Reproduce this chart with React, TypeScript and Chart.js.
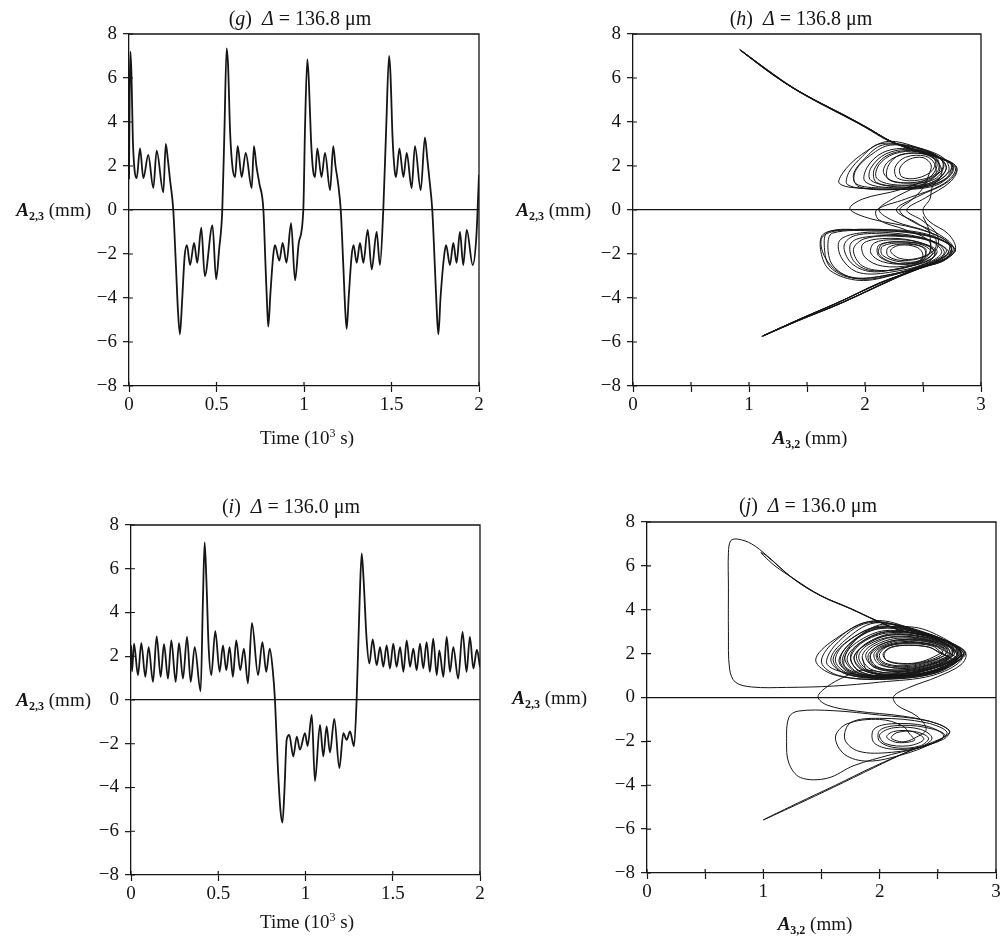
import React, { useEffect, useRef } from "react";
import { Chart, registerables } from "chart.js";

Chart.register(...registerables);

type Pt = [number, number];

// ---------- Panel (g): A2,3 vs time, Δ = 136.8 μm ----------
const gCycle1: Pt[] = [
  [0.0, 1.4], [0.004, 5.5], [0.008, 7.2], [0.014, 6.2], [0.022, 3.2], [0.032, 1.8], [0.044, 1.45], [0.063, 2.8],
  [0.082, 1.45], [0.11, 2.5], [0.139, 1.0], [0.158, 2.7], [0.196, 0.8], [0.21, 3.0], [0.222, 2.3], [0.234, 1.4],
  [0.253, 0.0], [0.268, -2.5], [0.28, -4.6], [0.291, -5.65], [0.303, -4.2], [0.318, -2.1], [0.331, -1.6],
  [0.349, -2.5], [0.372, -1.5], [0.39, -2.4], [0.413, -0.8], [0.433, -3.0], [0.477, -0.7], [0.498, -3.15],
  [0.515, -1.8], [0.533, 0.0], [0.545, 3.5], [0.558, 7.35],
];
const gCycle2: Pt[] = [
  [0.566, 6.6], [0.578, 3.5], [0.592, 1.9], [0.606, 1.5], [0.621, 2.9], [0.644, 1.5], [0.667, 2.6], [0.701, 1.0],
  [0.714, 2.9], [0.728, 2.0], [0.745, 1.2], [0.768, 0.0], [0.78, -2.5], [0.79, -4.5], [0.796, -5.3], [0.808, -3.8],
  [0.825, -2.0], [0.834, -1.6], [0.859, -2.3], [0.878, -1.5], [0.9, -2.4], [0.926, -0.6], [0.949, -3.2],
  [0.97, -1.5], [0.996, 0.0], [1.006, 3.8], [1.019, 6.85],
];
const gCycle3: Pt[] = [
  [1.027, 6.0], [1.04, 3.2], [1.052, 1.8], [1.063, 1.5], [1.076, 2.8], [1.1, 1.5], [1.12, 2.6], [1.149, 0.9],
  [1.167, 2.9], [1.18, 2.0], [1.195, 1.2], [1.21, 0.0], [1.225, -2.6], [1.236, -4.6], [1.244, -5.4], [1.256, -3.9],
  [1.272, -2.1], [1.283, -1.6], [1.301, -2.4], [1.32, -1.5], [1.339, -2.4], [1.364, -0.9], [1.387, -2.7],
  [1.415, -1.0], [1.434, -2.5], [1.453, 0.0], [1.47, 3.8], [1.486, 7.0],
];
const gCycle4: Pt[] = [
  [1.494, 6.2], [1.506, 3.3], [1.518, 1.8], [1.526, 1.5], [1.545, 2.8], [1.568, 1.5], [1.587, 2.6], [1.615, 1.0],
  [1.634, 2.9], [1.667, 0.9], [1.691, 3.3], [1.705, 2.3], [1.718, 1.3], [1.733, 0.0], [1.748, -2.6], [1.76, -4.8],
  [1.768, -5.65], [1.78, -4.0], [1.802, -2.0], [1.812, -1.6], [1.834, -2.5], [1.853, -1.5], [1.872, -2.4],
  [1.891, -1.0], [1.91, -2.5], [1.93, -0.9], [1.964, -2.5], [1.985, -1.2], [2.0, 1.6],
];

// ---------- Panel (i): A2,3 vs time, Δ = 136.0 μm ----------
const iSeg1: Pt[] = [
  [0.0, 2.5], [0.006, 1.3], [0.017, 2.58], [0.04, 1.14], [0.059, 2.6], [0.082, 1.06], [0.101, 2.42], [0.126, 0.83],
  [0.147, 2.91], [0.17, 1.06], [0.189, 2.55], [0.212, 0.98], [0.231, 2.73], [0.256, 0.83], [0.275, 2.6], [0.298, 0.98],
  [0.321, 2.88], [0.342, 0.83], [0.365, 2.42], [0.399, 0.4], [0.412, 4.5], [0.422, 7.2], [0.432, 5.5], [0.445, 2.4],
  [0.46, 1.14], [0.483, 3.15], [0.508, 1.29], [0.527, 2.5], [0.546, 1.36], [0.565, 2.42], [0.584, 1.06], [0.603, 2.73],
  [0.626, 1.36], [0.647, 2.35], [0.67, 0.76], [0.693, 3.52], [0.728, 1.14], [0.753, 2.65], [0.775, 1.29], [0.795, 2.35],
  [0.812, 1.4], [0.825, 0.0],
];
const iSeg2: Pt[] = [
  [0.84, -2.8], [0.856, -5.0], [0.868, -5.6], [0.879, -4.2], [0.892, -1.82], [0.907, -1.6], [0.93, -2.58], [0.95, -1.67],
  [0.968, -2.27], [0.997, -1.52], [1.012, -2.1], [1.036, -0.68], [1.054, -3.71], [1.083, -1.14], [1.102, -2.58],
  [1.121, -1.21], [1.14, -2.4], [1.165, -0.86], [1.194, -3.11], [1.217, -1.52], [1.236, -1.82], [1.255, -1.44],
  [1.278, -2.12], [1.293, 0.0],
];
const iSeg3: Pt[] = [
  [1.31, 4.5], [1.322, 6.7], [1.333, 5.5], [1.35, 2.8], [1.366, 1.67], [1.385, 2.77], [1.408, 1.59], [1.427, 2.42],
  [1.446, 1.52], [1.465, 2.5], [1.484, 1.44], [1.503, 2.58], [1.522, 1.52], [1.542, 2.42], [1.561, 1.29], [1.58, 2.73],
  [1.599, 1.52], [1.618, 2.35], [1.637, 1.36], [1.656, 2.58], [1.675, 1.44], [1.694, 2.65], [1.713, 1.29], [1.732, 2.8],
  [1.752, 1.14], [1.767, 2.27], [1.79, 1.06], [1.809, 2.88], [1.828, 1.29], [1.847, 2.42], [1.875, 0.98], [1.9, 3.11],
  [1.923, 1.29], [1.942, 2.88], [1.962, 1.44], [1.982, 2.3], [2.0, 1.5],
];

// ---------- Panel (h): A2,3 vs A3,2, Δ = 136.8 μm ----------
const hPass1: Pt[] = [
  [0.92, 7.27], [1.15, 6.38], [1.36, 5.6], [1.58, 4.93], [1.81, 4.3], [2.02, 3.72], [2.22, 3.12], [2.4, 2.75], [2.6, 2.43], [2.74, 2.08],
  [2.7, 1.45], [2.45, 1.0], [2.05, 0.97], [1.78, 1.2], [1.84, 1.9], [2.02, 2.7], [2.2, 3.12], [2.45, 2.85], [2.68, 2.35],
  [2.72, 1.75], [2.55, 1.15], [2.2, 1.02], [2.0, 1.3], [2.02, 1.95], [2.15, 2.6], [2.35, 2.8], [2.58, 2.55], [2.68, 2.05],
  [2.6, 1.4], [2.38, 1.22], [2.2, 1.4], [2.2, 2.0], [2.3, 2.5], [2.5, 2.55], [2.62, 2.15],
  [2.56, 1.5], [2.3, 0.92], [1.98, 0.5], [1.87, 0.05], [2.05, -0.4], [2.45, -0.85], [2.7, -1.4], [2.74, -2.0], [2.52, -2.55],
  [2.22, -3.2], [1.8, -4.2], [1.45, -4.95], [1.12, -5.72],
  [1.42, -5.0], [1.77, -4.2], [2.12, -3.35], [2.36, -2.85],
  [2.68, -2.25], [2.77, -1.75], [2.55, -1.2], [2.15, -0.93], [1.78, -0.93], [1.63, -1.25], [1.65, -2.1], [1.78, -2.85], [2.0, -3.15], [2.3, -2.85],
  [2.62, -2.3], [2.7, -1.8], [2.5, -1.3], [2.2, -1.1], [1.92, -1.15], [1.82, -1.6], [1.88, -2.4], [2.05, -2.8], [2.3, -2.65],
  [2.55, -2.3], [2.62, -1.85], [2.45, -1.45], [2.25, -1.35], [2.08, -1.5], [2.05, -1.95], [2.15, -2.35], [2.35, -2.45],
  [2.5, -2.2], [2.52, -1.75], [2.35, -1.55], [2.2, -1.7], [2.2, -2.1], [2.35, -2.3],
  [2.55, -2.0], [2.55, -1.4], [2.35, -0.9], [2.12, -0.45], [2.1, 0.0], [2.35, 0.5], [2.68, 1.2], [2.78, 1.9], [2.62, 2.42],
  [2.4, 2.77], [2.2, 3.15], [2.0, 3.76], [1.8, 4.36], [1.57, 4.98], [1.34, 5.67], [1.13, 6.43], [0.92, 7.3],
];
const hPass2: Pt[] = [
  [1.16, 6.35], [1.37, 5.58], [1.6, 4.9], [1.82, 4.28], [2.03, 3.7], [2.23, 3.1], [2.42, 2.72], [2.62, 2.4], [2.76, 2.0],
  [2.74, 1.6], [2.6, 1.1], [2.3, 0.93], [1.95, 1.05], [1.9, 1.6], [2.0, 2.35], [2.15, 2.95], [2.38, 2.88], [2.62, 2.45],
  [2.7, 1.9], [2.6, 1.3], [2.35, 1.1], [2.1, 1.25], [2.08, 1.85], [2.2, 2.5], [2.42, 2.7], [2.62, 2.35],
  [2.62, 1.7], [2.45, 1.35], [2.28, 1.45], [2.26, 1.95], [2.35, 2.4], [2.52, 2.45], [2.6, 2.1],
  [2.6, 1.5], [2.42, 1.0], [2.22, 0.45], [2.12, 0.0], [2.25, -0.5], [2.55, -1.0], [2.74, -1.6], [2.7, -2.2], [2.48, -2.6],
  [2.2, -3.25], [1.8, -4.22], [1.45, -4.97], [1.13, -5.7],
  [1.43, -4.98], [1.78, -4.18], [2.13, -3.3], [2.4, -2.8],
  [2.7, -2.1], [2.74, -1.65], [2.5, -1.1], [2.1, -0.95], [1.72, -1.05], [1.68, -1.6], [1.72, -2.5], [1.88, -3.05], [2.15, -3.0], [2.45, -2.6],
  [2.68, -2.0], [2.62, -1.5], [2.4, -1.2], [2.05, -1.2], [1.88, -1.5], [1.9, -2.3], [2.05, -2.75], [2.35, -2.6],
  [2.6, -2.1], [2.55, -1.65], [2.35, -1.45], [2.15, -1.55], [2.12, -2.0], [2.25, -2.4], [2.45, -2.4],
  [2.5, -2.05], [2.45, -1.7], [2.3, -1.6], [2.22, -1.85], [2.3, -2.2], [2.45, -2.2],
  [2.6, -1.8], [2.6, -1.2], [2.45, -0.6], [2.27, 0.0], [2.45, 0.6], [2.72, 1.3], [2.79, 1.95], [2.62, 2.44],
  [2.41, 2.78], [2.21, 3.16], [2.01, 3.77], [1.8, 4.37], [1.57, 4.99], [1.34, 5.68], [1.13, 6.44], [0.93, 7.25],
];
const hPass3: Pt[] = [
  [1.16, 6.37], [1.37, 5.6], [1.59, 4.92], [1.82, 4.3], [2.03, 3.71], [2.23, 3.11], [2.41, 2.74], [2.61, 2.41], [2.75, 2.04],
  [2.68, 1.5], [2.5, 1.08], [2.15, 1.0], [1.92, 1.2], [1.92, 1.8], [2.05, 2.5], [2.22, 2.95], [2.5, 2.75], [2.66, 2.3],
  [2.66, 1.8], [2.5, 1.25], [2.25, 1.15], [2.1, 1.45], [2.12, 2.05], [2.25, 2.55], [2.45, 2.65], [2.6, 2.3],
  [2.58, 1.8], [2.45, 1.45], [2.32, 1.5], [2.3, 1.9], [2.38, 2.3], [2.5, 2.38], [2.57, 2.05],
  [2.55, 1.6], [2.5, 1.0], [2.4, 0.45], [2.3, 0.0], [2.4, -0.5], [2.62, -1.05], [2.76, -1.7], [2.68, -2.3], [2.45, -2.65],
  [2.18, -3.3], [1.79, -4.25], [1.44, -5.0], [1.12, -5.73],
  [1.44, -4.95], [1.79, -4.15], [2.14, -3.28], [2.42, -2.75],
  [2.7, -2.05], [2.72, -1.55], [2.45, -1.0], [2.0, -0.9], [1.68, -1.0], [1.65, -1.7], [1.7, -2.6], [1.9, -3.1], [2.2, -2.95], [2.5, -2.5],
  [2.66, -1.95], [2.58, -1.45], [2.3, -1.2], [2.0, -1.3], [1.9, -1.8], [1.98, -2.55], [2.2, -2.75], [2.45, -2.45],
  [2.58, -2.0], [2.5, -1.6], [2.3, -1.45], [2.12, -1.6], [2.12, -2.1], [2.3, -2.45], [2.5, -2.3],
  [2.62, -1.75], [2.62, -1.1], [2.5, -0.5], [2.36, 0.0], [2.52, 0.55], [2.74, 1.3], [2.79, 1.92], [2.63, 2.43],
  [2.42, 2.77], [2.21, 3.15], [2.02, 3.75], [1.81, 4.35], [1.58, 4.97], [1.35, 5.66], [1.14, 6.42], [0.94, 7.22],
];
const hPass4: Pt[] = [
  [1.16, 6.36], [1.36, 5.61], [1.59, 4.92], [1.82, 4.31], [2.03, 3.7], [2.22, 3.13], [2.41, 2.74], [2.61, 2.42], [2.75, 2.06],
  [2.72, 1.5], [2.52, 1.05], [2.1, 0.95], [1.85, 1.15], [1.86, 1.7], [1.98, 2.45], [2.12, 3.0], [2.4, 2.9], [2.64, 2.4],
  [2.7, 1.85], [2.55, 1.2], [2.28, 1.05], [2.05, 1.35], [2.05, 1.9], [2.18, 2.55], [2.4, 2.75], [2.6, 2.4],
  [2.64, 1.75], [2.48, 1.3], [2.25, 1.3], [2.16, 1.7], [2.2, 2.2], [2.35, 2.55], [2.55, 2.5], [2.64, 2.1],
  [2.66, 1.6], [2.58, 1.05], [2.56, 0.5], [2.5, 0.0], [2.55, -0.5], [2.72, -1.1], [2.78, -1.8], [2.66, -2.35], [2.42, -2.7],
  [2.16, -3.32], [1.78, -4.27], [1.43, -5.02], [1.11, -5.75],
  [1.41, -5.03], [1.76, -4.22], [2.11, -3.37], [2.38, -2.82],
  [2.66, -2.3], [2.78, -1.8], [2.6, -1.25], [2.25, -0.92], [1.85, -0.9], [1.64, -1.1], [1.62, -1.9], [1.7, -2.75], [1.95, -3.2], [2.25, -2.95],
  [2.6, -2.35], [2.72, -1.9], [2.55, -1.35], [2.25, -1.05], [1.95, -1.05], [1.78, -1.4], [1.8, -2.2], [1.95, -2.85], [2.25, -2.8],
  [2.55, -2.35], [2.6, -1.85], [2.42, -1.4], [2.15, -1.3], [1.98, -1.55], [2.0, -2.15], [2.15, -2.55], [2.4, -2.5],
  [2.52, -2.15], [2.5, -1.7], [2.32, -1.5], [2.15, -1.65], [2.15, -2.05], [2.3, -2.35], [2.48, -2.3],
  [2.56, -1.9], [2.55, -0.9], [2.5, -0.3],
];

// ---------- Panel (j): A2,3 vs A3,2, Δ = 136.0 μm ----------
const jPath1: Pt[] = [
  [2.72, 2.0], [2.5, 1.15], [2.0, 0.82], [1.6, 1.05], [1.45, 1.7], [1.6, 2.6], [1.95, 3.5], [2.35, 3.0], [2.62, 2.45],
  [2.7, 1.95], [2.45, 1.2], [2.05, 0.88], [1.7, 1.1], [1.6, 1.75], [1.72, 2.55], [2.0, 3.25], [2.38, 2.9], [2.62, 2.4],
  [2.68, 1.9], [2.42, 1.25], [2.08, 0.95], [1.8, 1.15], [1.7, 1.8], [1.8, 2.5], [2.05, 3.05], [2.4, 2.8], [2.6, 2.35],
  [2.66, 1.9], [2.4, 1.3], [2.1, 1.05], [1.88, 1.25], [1.8, 1.85], [1.88, 2.45], [2.1, 2.85], [2.42, 2.7], [2.6, 2.3],
  [2.64, 1.95], [2.4, 1.4], [2.15, 1.2], [1.95, 1.4], [1.88, 1.9], [1.95, 2.35], [2.15, 2.7], [2.42, 2.6], [2.58, 2.3],
  [2.6, 1.95], [2.38, 1.5], [2.18, 1.35], [2.0, 1.5], [1.95, 1.95], [2.02, 2.3], [2.2, 2.55], [2.42, 2.45], [2.55, 2.2],
  [2.5, 1.95], [2.35, 1.62], [2.2, 1.55], [2.06, 1.7], [2.03, 2.0], [2.1, 2.3], [2.25, 2.38], [2.42, 2.3], [2.5, 2.1],
  [2.58, 1.8], [2.5, 1.3], [2.2, 1.0], [1.85, 1.0], [1.7, 1.4], [1.72, 2.1], [1.85, 2.9], [2.05, 3.35], [2.4, 2.95], [2.65, 2.3], [2.7, 1.7], [2.45, 1.0],
  [2.0, 0.7], [1.6, 0.52], [1.2, 0.46], [0.9, 0.48], [0.76, 0.7], [0.71, 1.3], [0.7, 3.0], [0.7, 5.0], [0.7, 6.6], [0.72, 7.15],
  [0.78, 7.22], [0.9, 7.0], [1.03, 6.47], [1.26, 5.41], [1.49, 4.65], [1.75, 4.05], [1.97, 3.51], [2.18, 3.06], [2.4, 2.83], [2.6, 2.53], [2.74, 2.0],
];
const jPath2: Pt[] = [
  [2.55, 1.35], [2.2, 0.95], [1.8, 1.05], [1.55, 1.5], [1.62, 2.4], [1.9, 3.4], [2.3, 3.05], [2.6, 2.5], [2.72, 1.95],
  [2.48, 1.2], [2.05, 0.9], [1.75, 1.1], [1.65, 1.7], [1.78, 2.6], [2.02, 3.15], [2.4, 2.85], [2.64, 2.35],
  [2.66, 1.85], [2.42, 1.3], [2.12, 1.05], [1.85, 1.25], [1.78, 1.85], [1.9, 2.5], [2.1, 2.9], [2.44, 2.7], [2.62, 2.25],
  [2.6, 1.85], [2.38, 1.42], [2.15, 1.25], [1.95, 1.45], [1.92, 1.95], [2.0, 2.4], [2.2, 2.65], [2.45, 2.55], [2.58, 2.2],
  [2.55, 1.9], [2.35, 1.55], [2.15, 1.45], [2.02, 1.65], [2.0, 2.0], [2.08, 2.35], [2.25, 2.45], [2.45, 2.35], [2.53, 2.05],
  [2.62, 1.7], [2.45, 1.2], [2.1, 0.98], [1.8, 1.12], [1.68, 1.6], [1.75, 2.4], [1.95, 3.1], [2.3, 3.2], [2.55, 2.7], [2.7, 2.1],
  [2.66, 1.75], [2.4, 1.25], [2.05, 1.0], [1.82, 1.2], [1.75, 1.9], [1.85, 2.55], [2.08, 3.0], [2.42, 2.8], [2.63, 2.3],
  [2.6, 1.8], [2.4, 1.35], [2.1, 1.12], [1.85, 1.25], [1.7, 0.95],
  [1.55, 0.5], [1.47, 0.03], [1.55, -0.35], [1.8, -0.62], [2.2, -0.85], [2.5, -1.2], [2.6, -1.6], [2.45, -2.05], [2.25, -2.45],
  [1.95, -3.2], [1.6, -4.1], [1.3, -4.85], [1.0, -5.58],
  [1.3, -4.8], [1.62, -4.0], [1.95, -3.15], [2.3, -2.35], [2.55, -1.9], [2.6, -1.5],
  [2.4, -1.05], [2.0, -0.8], [1.6, -0.6], [1.3, -0.62], [1.22, -0.9], [1.2, -2.0], [1.22, -3.0], [1.32, -3.65], [1.55, -3.68],
  [1.78, -3.1], [2.1, -2.6], [2.45, -2.1], [2.58, -1.6],
  [2.4, -1.15], [2.0, -0.95], [1.75, -1.15], [1.7, -1.9], [1.82, -2.45], [2.1, -2.5], [2.4, -2.2], [2.55, -1.75],
  [2.4, -1.3], [2.1, -1.2], [1.95, -1.45], [1.95, -2.05], [2.1, -2.35], [2.35, -2.25], [2.45, -1.85],
  [2.35, -1.45], [2.12, -1.38], [2.0, -1.7], [2.05, -2.1], [2.25, -2.2], [2.38, -1.9],
  [2.28, -1.55], [2.12, -1.55], [2.06, -1.8], [2.15, -2.05], [2.3, -1.95], [2.26, -1.68],
  [2.2, -1.3], [2.0, -1.0], [1.72, -1.2], [1.62, -1.8], [1.7, -2.6], [1.9, -2.9], [2.2, -2.6], [2.45, -2.1], [2.56, -1.7],
  [2.38, -1.35], [2.15, -1.28], [2.0, -1.5], [2.0, -2.0], [2.15, -2.3], [2.35, -2.2], [2.42, -1.85],
  [2.3, -1.55], [2.15, -1.6], [2.1, -1.85], [2.2, -2.02], [2.3, -1.85],
  [2.4, -1.45], [2.32, -0.85], [2.15, -0.35], [2.12, 0.05], [2.25, 0.45], [2.5, 0.95], [2.7, 1.5], [2.74, 2.0], [2.6, 2.52],
  [2.4, 2.84], [2.18, 3.07], [1.97, 3.52], [1.75, 4.06], [1.49, 4.66], [1.26, 5.42], [1.1, 6.0], [0.98, 6.6],
  [1.03, 6.45], [1.26, 5.4], [1.49, 4.64], [1.75, 4.04], [1.97, 3.5], [2.18, 3.05], [2.4, 2.82], [2.6, 2.5], [2.73, 2.0],
];
const jPath3: Pt[] = [
  [2.5, 1.15], [2.05, 0.85], [1.65, 1.0], [1.5, 1.6], [1.6, 2.5], [1.9, 3.45], [2.3, 3.05], [2.62, 2.45], [2.72, 1.95],
  [2.5, 1.2], [2.1, 0.9], [1.75, 1.05], [1.62, 1.65], [1.7, 2.45], [1.98, 3.2], [2.36, 2.92], [2.62, 2.4], [2.7, 1.92],
  [2.46, 1.25], [2.1, 0.95], [1.82, 1.12], [1.72, 1.75], [1.82, 2.45], [2.05, 3.0], [2.4, 2.82], [2.6, 2.35], [2.68, 1.9],
  [2.44, 1.3], [2.12, 1.02], [1.88, 1.2], [1.78, 1.8], [1.88, 2.4], [2.1, 2.85], [2.42, 2.7], [2.6, 2.3], [2.66, 1.9],
  [2.42, 1.35], [2.15, 1.1], [1.92, 1.3], [1.85, 1.85], [1.92, 2.35], [2.12, 2.75], [2.42, 2.62], [2.58, 2.25],
  [2.6, 1.9], [2.4, 1.45], [2.18, 1.25], [1.98, 1.4], [1.92, 1.9], [2.0, 2.3], [2.18, 2.6], [2.44, 2.5], [2.56, 2.2],
  [2.56, 1.92], [2.38, 1.55], [2.2, 1.4], [2.03, 1.55], [1.98, 1.95], [2.05, 2.3], [2.22, 2.48], [2.44, 2.4], [2.54, 2.12],
  [2.52, 1.9], [2.36, 1.6], [2.2, 1.52], [2.06, 1.68], [2.04, 2.0], [2.1, 2.28], [2.25, 2.38], [2.42, 2.3], [2.5, 2.08],
  [2.62, 1.7], [2.48, 1.15], [2.12, 0.92], [1.78, 1.08], [1.66, 1.65], [1.75, 2.5], [2.0, 3.2], [2.38, 2.95], [2.63, 2.4], [2.7, 1.9],
  [2.48, 1.22], [2.12, 0.95], [1.85, 1.15], [1.75, 1.75], [1.85, 2.5], [2.08, 2.95], [2.42, 2.78], [2.62, 2.32], [2.67, 1.88],
  [2.44, 1.3], [2.14, 1.05], [1.9, 1.25], [1.82, 1.85], [1.9, 2.4], [2.12, 2.78], [2.42, 2.65], [2.6, 2.28],
  [2.62, 1.85], [2.42, 1.38], [2.16, 1.18], [1.95, 1.38], [1.9, 1.9], [1.98, 2.32], [2.15, 2.62], [2.42, 2.55], [2.57, 2.2],
  [2.58, 1.88], [2.4, 1.48], [2.2, 1.32], [2.02, 1.5], [1.97, 1.95], [2.04, 2.3], [2.2, 2.5], [2.44, 2.44], [2.55, 2.15],
  [2.66, 1.75], [2.48, 1.2], [2.1, 0.9], [1.72, 1.05], [1.58, 1.7], [1.7, 2.6], [1.96, 3.4], [2.35, 3.0], [2.64, 2.4], [2.7, 1.9],
  [2.5, 1.25], [2.15, 1.0], [1.9, 1.2], [1.85, 1.8],
];

// ---------- axis / label texts ----------
const yTicks = [-8, -6, -4, -2, 0, 2, 4, 6, 8];
const timeTickLabels = ["0", "0.5", "1", "1.5", "2"];
const ampTickLabels = ["0", "", "1", "", "2", "", "3"];
const titleG = { letter: "g", value: "136.8" };
const titleH = { letter: "h", value: "136.8" };
const titleI = { letter: "i", value: "136.0" };
const titleJ = { letter: "j", value: "136.0" };

const SERIF = '"Liberation Serif", "Times New Roman", serif';
const font = (size: number, style = "") => `${style} ${size}px ${SERIF}`.trim();
const INK = "#151515";

type Part = { t: string; f: string; dy?: number };

function titleParts(letter: string, value: string): Part[] {
  return [
    { t: "(", f: font(20) },
    { t: letter, f: font(20, "italic") },
    { t: ")  ", f: font(20) },
    { t: "Δ", f: font(20, "italic") },
    { t: " = " + value + " μm", f: font(20) },
  ];
}
const yLabelParts: Part[] = [
  { t: "A", f: font(19, "italic bold") },
  { t: "2,3", f: font(12, "bold"), dy: 4 },
  { t: " (mm)", f: font(19) },
];
const timeLabelParts: Part[] = [
  { t: "Time (10", f: font(19) },
  { t: "3", f: font(12), dy: -7 },
  { t: " s)", f: font(19) },
];
const ampLabelParts: Part[] = [
  { t: "A", f: font(19, "italic bold") },
  { t: "3,2", f: font(12, "bold"), dy: 4 },
  { t: " (mm)", f: font(19) },
];

function drawParts(ctx: CanvasRenderingContext2D, parts: Part[], x: number, y: number, align: "left" | "center" | "right") {
  let total = 0;
  for (const p of parts) {
    ctx.font = p.f;
    total += ctx.measureText(p.t).width;
  }
  let cx = align === "center" ? x - total / 2 : align === "right" ? x - total : x;
  ctx.textBaseline = "alphabetic";
  ctx.textAlign = "left";
  ctx.fillStyle = INK;
  for (const p of parts) {
    ctx.font = p.f;
    ctx.fillText(p.t, cx, y + (p.dy || 0));
    cx += ctx.measureText(p.t).width;
  }
}

type Spec = {
  cx: number; cy: number; w: number; h: number;
  area: { l: number; t: number; r: number; b: number };
  xMax: number; xTickLabels: string[];
  title: Part[]; titleX: number; titleY: number;
  yLabelRight: number;
  xLabel: Part[]; xLabelX: number; xLabelY: number;
  data: Pt[]; lineWidth: number; monotone: boolean;
};

const specs: Spec[] = [
  {
    cx: 0, cy: 0, w: 500, h: 470, area: { l: 129, t: 34, r: 479, b: 386 },
    xMax: 2, xTickLabels: timeTickLabels,
    title: titleParts(titleG.letter, titleG.value), titleX: 300, titleY: 25,
    yLabelRight: 91, xLabel: timeLabelParts, xLabelX: 307, xLabelY: 444,
    data: [...gCycle1, ...gCycle2, ...gCycle3, ...gCycle4], lineWidth: 1.8, monotone: true,
  },
  {
    cx: 500, cy: 0, w: 505, h: 470, area: { l: 633, t: 34, r: 981, b: 386 },
    xMax: 3, xTickLabels: ampTickLabels,
    title: titleParts(titleH.letter, titleH.value), titleX: 801, titleY: 25,
    yLabelRight: 591, xLabel: ampLabelParts, xLabelX: 810, xLabelY: 444,
    data: [...hPass1, ...hPass2, ...hPass3, ...hPass4], lineWidth: 1, monotone: false,
  },
  {
    cx: 0, cy: 470, w: 500, h: 472, area: { l: 131, t: 525, r: 480, b: 875 },
    xMax: 2, xTickLabels: timeTickLabels,
    title: titleParts(titleI.letter, titleI.value), titleX: 291, titleY: 513,
    yLabelRight: 91, xLabel: timeLabelParts, xLabelX: 307, xLabelY: 928,
    data: [...iSeg1, ...iSeg2, ...iSeg3], lineWidth: 1.8, monotone: true,
  },
  {
    cx: 500, cy: 470, w: 505, h: 472, area: { l: 647, t: 522, r: 996, b: 873 },
    xMax: 3, xTickLabels: ampTickLabels,
    title: titleParts(titleJ.letter, titleJ.value), titleX: 808, titleY: 512,
    yLabelRight: 587, xLabel: ampLabelParts, xLabelX: 815, xLabelY: 930,
    data: [...jPath1, ...jPath2, ...jPath3], lineWidth: 1, monotone: false,
  },
];

function Panel({ spec }: { spec: Spec }) {
  const ref = useRef<HTMLCanvasElement>(null);
  useEffect(() => {
    const s = spec;
    const padLeft = 0;
    const yW = s.area.l - s.cx - padLeft;
    const padTop = s.area.t - s.cy;
    const padRight = s.cx + s.w - s.area.r;
    const xH = s.cy + s.h - s.area.b;

    const decor = {
      id: "decor",
      afterDraw(chart: any) {
        const ctx: CanvasRenderingContext2D = chart.ctx;
        const { left, top, right, bottom } = chart.chartArea;
        const xs = chart.scales.x;
        const ys = chart.scales.y;
        ctx.save();
        ctx.strokeStyle = INK;
        ctx.lineWidth = 1.3;
        ctx.beginPath();
        ctx.moveTo(left, top);
        ctx.lineTo(right, top);
        ctx.lineTo(right, bottom);
        ctx.stroke();
        ctx.lineWidth = 1.2;
        ctx.beginPath();
        for (const tk of xs.ticks) {
          const px = xs.getPixelForValue(tk.value);
          ctx.moveTo(px, bottom);
          ctx.lineTo(px, bottom - 4);
        }
        for (const tk of ys.ticks) {
          const py = ys.getPixelForValue(tk.value);
          ctx.moveTo(left, py);
          ctx.lineTo(left + 4, py);
        }
        ctx.stroke();
        drawParts(ctx, s.title, s.titleX - s.cx, s.titleY - s.cy, "center");
        const zeroY = ys.getPixelForValue(0);
        drawParts(ctx, yLabelParts, s.yLabelRight - s.cx, zeroY + 6, "right");
        drawParts(ctx, s.xLabel, s.xLabelX - s.cx, s.xLabelY - s.cy, "center");
        ctx.restore();
      },
    };

    const chart = new Chart(ref.current!, {
      type: "scatter",
      data: {
        datasets: [
          {
            data: s.data.map(([x, y]) => ({ x, y })),
            showLine: true,
            borderColor: INK,
            borderWidth: s.lineWidth,
            pointRadius: 0,
            fill: false,
            tension: s.monotone ? 0 : 0.35,
            cubicInterpolationMode: s.monotone ? "monotone" : "default",
          } as any,
        ],
      },
      options: {
        animation: false,
        responsive: false,
        maintainAspectRatio: false,
        devicePixelRatio: 1,
        events: [],
        layout: { padding: { left: padLeft, top: padTop, right: padRight, bottom: 0 } },
        plugins: { legend: { display: false }, tooltip: { enabled: false }, title: { display: false } },
        scales: {
          x: {
            type: "linear",
            min: 0,
            max: s.xMax,
            afterFit: (sc: any) => { sc.height = xH; },
            ticks: {
              stepSize: 0.5,
              autoSkip: false,
              maxRotation: 0,
              padding: 2,
              color: INK,
              font: { family: SERIF, size: 19 },
              callback: (_v: any, idx: number) => s.xTickLabels[idx] ?? "",
            },
            grid: { drawOnChartArea: false, drawTicks: true, tickLength: 6, tickColor: INK, tickWidth: 1.2 },
            border: { display: true, color: INK, width: 1.3 },
          },
          y: {
            type: "linear",
            min: -8,
            max: 8,
            afterFit: (sc: any) => { sc.width = yW; },
            afterBuildTicks: (sc: any) => { sc.ticks = yTicks.map((v) => ({ value: v })); },
            ticks: {
              padding: 6,
              color: INK,
              font: { family: SERIF, size: 19 },
              callback: (v: any) => (Number(v) < 0 ? "−" + Math.abs(Number(v)) : String(v)),
            },
            grid: {
              drawOnChartArea: true,
              drawTicks: true,
              tickLength: 6,
              tickColor: INK,
              tickWidth: 1.2,
              lineWidth: 1.3,
              color: (c: any) => (c.tick && c.tick.value === 0 ? INK : "rgba(0,0,0,0)"),
            },
            border: { display: true, color: INK, width: 1.3 },
          },
        },
      } as any,
      plugins: [decor],
    });
    return () => chart.destroy();
  }, [spec]);
  return (
    <canvas
      ref={ref}
      width={spec.w}
      height={spec.h}
      style={{ position: "absolute", left: spec.cx, top: spec.cy, width: spec.w, height: spec.h }}
    />
  );
}

export default function App() {
  return (
    <div style={{ position: "absolute", left: 0, top: 0, width: 1005, height: 942, background: "#fff", overflow: "hidden" }}>
      {specs.map((s, i) => (
        <Panel key={i} spec={s} />
      ))}
    </div>
  );
}
